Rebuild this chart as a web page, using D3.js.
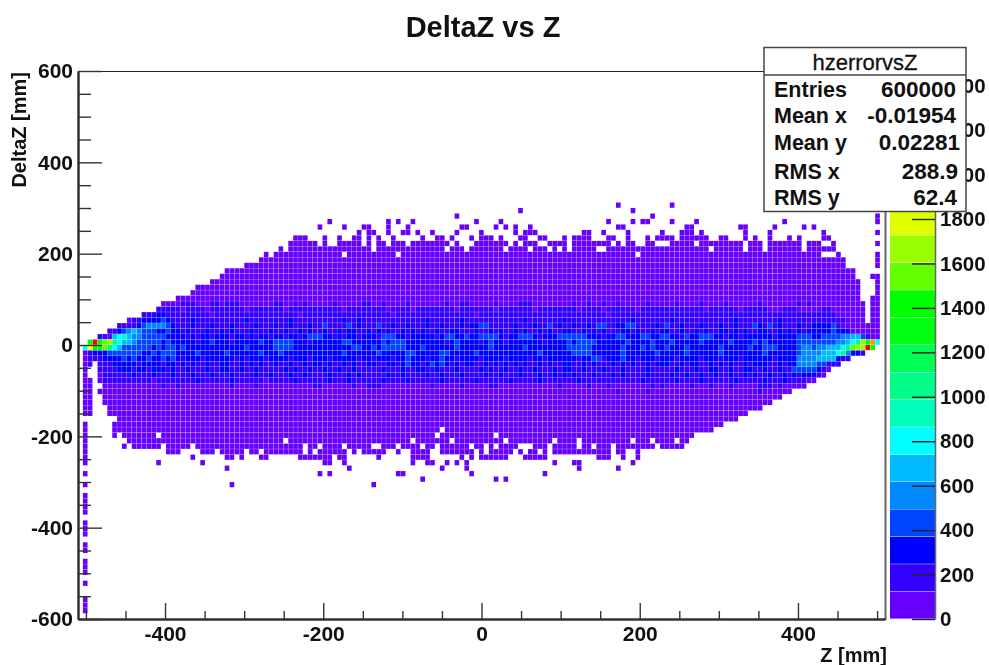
<!DOCTYPE html>
<head>
    <meta charset="utf-8">
    <script src="https://d3js.org/d3.v7.min.js"></script>
    <style>
        *{
            margin:0;
            padding:0;
        }
        html,
        body{
            background: #fff;
            overflow: hidden;
        }
        svg{
            display: block;
            filter: blur(0.35px);
        }
        text{
            font-family: 'Liberation Sans', sans-serif;
            font-weight: 700;
            fill: #111;
        }
    </style>
</head>

<body>
<svg id="viz" width="989" height="665"></svg>

<script>
    // axis ticks
    const zMajor = [-400, -200, 0, 200, 400];
    const zMinor = [-500, -450, -350, -300, -250, -150, -100, -50, 50, 100, 150, 250, 300, 350, 450, 500];
    const dzMajor = [-600, -400, -200, 0, 200, 400, 600];
    const dzMinor = [-550, -500, -450, -350, -300, -250, -150, -100, -50, 50, 100, 150, 250, 300, 350, 450, 500, 550];
    const barTicks = [0, 200, 400, 600, 800, 1000, 1200, 1400, 1600, 1800, 2000, 2200, 2400];

    // colour levels of the palette, low to high
    const palette = ["#6600ff", "#3300ff", "#0000ff", "#0044ff", "#0088ff", "#00bbff", "#00ffff", "#00ffbb", "#00ff88", "#00ff55",
        "#00ff11", "#00ff00", "#66ff00", "#99ff00", "#ddff00", "#ffff00", "#ffcc00", "#ff9900", "#ff6600", "#ff0000"];

    // stats box
    const statNames = ["Entries", "Mean x", "Mean y", "RMS x", "RMS y"];
    const statValues = ["600000", "-0.01954", "0.02281", "288.9", "62.4"];

    // first and last filled row of every Z bin (row 0 is the top of the plot)
    const topRow = [null,50,49,49,48,48,47,47,46,46,45,45,45,44,44,44,43,42,42,42,41,41,41,40,39,39,39,38,38,37,
        36,36,36,36,35,35,35,34,33,34,33,32,32,31,30,30,32,32,32,32,32,32,32,32,32,32,32,32,32,32,
        32,32,32,32,32,32,32,32,32,32,32,32,32,32,32,32,32,32,32,32,32,32,32,32,32,32,32,32,32,32,
        32,32,32,32,32,32,32,32,32,32,32,32,32,32,32,32,32,32,32,32,32,32,32,32,32,32,32,32,32,32,
        32,32,32,32,32,32,32,32,32,32,32,32,32,32,32,32,32,32,32,32,32,32,32,32,32,32,32,32,32,32,
        32,32,32,32,32,33,34,36,36,38,42,46,41,37,null];
    const bottomRow = [null,62,62,52,58,60,62,66,65,66,67,68,68,68,68,68,68,68,68,68,68,68,68,68,68,68,68,68,68,68,
        68,68,68,68,68,68,68,68,68,68,68,68,68,68,68,68,68,68,68,68,68,68,68,68,68,68,68,68,68,68,
        68,68,68,68,68,68,68,68,68,68,68,68,68,68,68,68,68,68,68,68,68,68,68,68,68,68,68,68,68,68,
        68,68,68,68,68,68,68,68,68,68,68,68,68,68,68,68,68,68,68,68,68,68,68,68,68,68,68,68,68,68,
        68,68,68,68,67,66,65,65,65,65,64,64,63,63,63,62,62,61,61,61,60,60,59,59,58,58,57,57,57,56,
        56,55,55,54,53,53,52,52,51,51,51,50,50,49,null];

    // [row, bins]: empty bins inside the body
    const holeRows = [
        [32, [42,60,75,79,87,92,96,98,100,106,107,129,136,140,148]],
        [33, [54,65,114,152,153,154]],
        [54, [2]], [55, [2]], [57, [4]], [63, [7]], [65, [74]],
        [66, [16,73,85]],
        [67, [42,68,76,87,97,102,113,117,122]],
        [68, [17,23,46,49,54,60,61,65,70,73,80,83,85,90,91,92,96,102,105,109,118,9]]
    ];

    // [row, bins]: filled bins outside the body
    const strayRows = [
        [24, [110,121]],
        [25, [90,113]],
        [26, [77,117,163]],
        [27, [51,63,65,68,81,86,108,113,115,116,121,126,144,163]],
        [28, [49,54,58,59,63,67,78,79,85,87,89,92,110,111,124,125,135,136,142,148,150]],
        [29, [57,59,60,63,66,67,69,72,77,82,89,91,92,93,103,104,107,112,119,123,124,125,127,136,141,152,163]],
        [30, [46,50,53,56,57,59,61,64,70,73,74,76,80,82,83,84,86,90,91,94,95,99,101,102,103,104,108,109,112,116,118,119,120,121,123,124,125,126,127,128,131,132,136,138,141,145,147,152,153]],
        [31, [46,47,48,50,53,54,55,56,57,59,61,62,64,65,66,68,69,70,71,72,73,74,75,77,81,82,83,84,85,86,87,89,91,92,93,96,97,98,99,101,102,103,104,105,106,107,108,110,112,113,116,117,121,122,123,124,125,127,128,129,130,131,132,133,134,135,137,138,139,141,142,143,144,145,146,147,149,150,151,154,163]],
        [33, [163]], [34, [163]], [35, [163]], [37, [162]],
        [64, [1]], [65, [1]], [66, [1]], [67, [1]], [68, [1,9]],
        [69, [1,18,19,20,25,26,27,29,30,31,32,33,35,36,38,39,40,41,42,43,44,45,47,49,50,51,52,53,54,56,58,59,60,61,62,65,68,69,70,71,74,75,76,77,78,79,80,82,84,85,86,87,88,90,92,93,95,97,98,99,100,101,102,103,104,105,106,107,108,110,111,114]],
        [70, [1,23,30,31,33,37,38,45,46,47,48,49,50,51,53,54,61,68,69,70,71,78,80,82,83,84,85,86,87,91,92,93,94,95,106,107,108,111,114]],
        [71, [1,16,25,50,51,54,68,71,72,75,77,79,97,101,102,113]],
        [72, [30,55,74,79,102,110]],
        [73, [1,49,51,65,66,80,95]],
        [74, [70,85,87]],
        [75, [1,31,60]],
        [77, [1]], [78, [1]], [79, [1]], [80, [1]],
        [82, [1]], [83, [1]], [84, [1]],
        [86, [1]], [87, [1]],
        [89, [1]], [90, [1]], [91, [1]],
        [93, [1]],
        [96, [1]], [97, [1]], [98, [1]]
    ];

    // palette level of each Z bin for rows 42 to 58, base 20, 165 bins in groups of ten; the rest of the body is level 0
    const levelRows = [
        "0000000000 0000000000 0111000110 1110000000 1100101000 0010000011 0010000100 0000010011 0000010000 1110000000 0100100100 1000001000 0010000100 0010000001 0000000101 0000000000 00000",
        "0000000000 0000001111 1011110111 1111011111 1101111111 1111011111 1110111101 1111111011 1111101111 1110111111 1101111011 1111011111 1111111101 1111101111 1000111000 0011000000 00000",
        "0000000000 0001112211 1111111011 1111111111 1111101111 1111111111 1111011111 1111111111 1011111111 1111111111 1111111101 1111111111 1111111111 1111111111 1111111111 1111100000 00000",
        "0000000000 0112222321 1112111111 1111211111 1112111111 1111211211 1111111111 1211111121 1111111111 1211111112 1111111111 1112111111 1211111111 1111211111 1112111111 1111111000 00000",
        "0000000011 1123444432 1112111211 1211112111 2112111211 3111131211 1311211211 1211211121 2233111112 1112113121 1211213311 2233111121 3112111211 1211211132 1312111211 2222310000 00000",
        "0000001123 4543332232 2121112112 1211121112 1121121211 2112122112 1212112121 2112112211 1211212112 1211212112 2112121211 1221211212 2112112121 1221212112 2112121212 2222322200 00000",
        "0000110567 5443333322 2212122122 2122121221 2212212333 2212122122 2133322122 2221233223 2233332122 3332122233 3333222122 3322233223 3221322333 2212212222 2212222333 2233334455 31000",
        "00ajbcd865 5433333232 2222122322 2122222322 3333222122 2222332222 2232333222 2222212322 2212322122 2222212222 3233332222 2232222322 2322222322 2223222232 3222222333 3333344568 dbh60",
        "06fbbc8653 3333323233 2322222222 2222322222 3333222222 2222223322 3233333222 3222222322 2222322222 2322222222 3333322222 2322232322 3222322222 2322222322 3332222344 34455568cd djb00",
        "0012223333 3332232333 2222322222 3222222322 2322222222 2222322222 2322222332 2222332222 2322222222 2222322222 2333322222 2322222232 2222322222 2322222222 3222222344 4455568422 10000",
        "0011122223 2322322323 2122212222 2212122212 2221222122 2122222122 1222122322 2122322122 2212222122 2212212222 2212233122 2322122212 2212222122 2122212222 2212222444 4555521100 00000",
        "0011111222 2212222122 1212112112 2112121211 2112112122 1211212112 2112212322 1232321212 2112121212 1211212112 2112121112 1212112122 2112122112 1212112122 2112122444 4331110000 00000",
        "0001111122 2122122212 1121112112 2112112111 1121211211 2112112111 1121112112 2112111211 1121211211 2112111212 2112111211 1211112111 1121112112 2112112211 2112113333 3210000000 00000",
        "0001011111 1211121112 1112111211 1211112112 1112112111 1211121211 1112112111 1211211121 1112112111 2111211212 1211121112 1211112111 1211211211 2112112121 1211212122 2100000000 00000",
        "0000011111 1111101111 1111211111 1211111101 1111211111 1211121111 1121111211 1111211111 1211111121 1111211111 1121111111 1111121111 1121111211 1111211111 2111211110 0000000000 00000",
        "0000000000 0000000100 1000000000 0100001000 0000000011 0000001001 1100000000 0010000010 0000110000 0000000010 0000100010 0000000101 0000010001 0001000001 1101000000 0000000000 00000",
        "0000000000 0000000000 0000000000 0000000000 0000000000 0000000000 0000000000 0000000000 0000000000 0000000000 0000000000 1000001000 0000000000 0000000001 0000000000 0000000000 00000"
    ];
    const firstLevelRow = 42;

    const svg = d3.select("#viz");

    const zBins = 165, dzBins = 100;
    const x = d3.scaleLinear().domain([-510, 510]).range([78, 885]);
    const y = d3.scaleLinear().domain([-600, 600]).range([619, 71]);
    const binZ = 1020 / zBins, binDz = 1200 / dzBins;
    const barMax = 2466;
    const barY = d3.scaleLinear().domain([0, barMax]).range([619, 71]);

    // title
    svg.append("text").attr("x", 483).attr("y", 37).attr("text-anchor", "middle")
        .style("font-size", "29px").text("DeltaZ vs Z");

    // build the list of filled bins
    const levels = levelRows.map(s => s.replace(/ /g, ""));
    const holes = new Set();
    holeRows.forEach(([row, bins]) => bins.forEach(b => holes.add(b + ":" + row)));
    const levelOf = (col, row) => {
        const line = levels[row - firstLevelRow];
        return line ? parseInt(line[col], 20) || 0 : 0;
    };
    const cells = [];
    topRow.forEach((first, col) => {
        if (first === null) return;
        for (let row = first; row <= bottomRow[col]; row++) {
            if (!holes.has(col + ":" + row)) cells.push({col, row, level: levelOf(col, row)});
        }
    });
    strayRows.forEach(([row, bins]) => bins.forEach(col => cells.push({col, row, level: levelOf(col, row)})));

    svg.append("g").selectAll("rect")
        .data(cells)
        .join("rect")
        .attr("x", d => x(-510 + d.col * binZ))
        .attr("y", d => y(600 - d.row * binDz))
        .attr("width", x(binZ) - x(0) - 0.25)
        .attr("height", y(0) - y(binDz) - 0.25)
        .attr("fill", d => palette[d.level]);

    // frame
    svg.append("line").attr("x1", x.range()[0]).attr("x2", x.range()[1]).attr("y1", 71.5).attr("y2", 71.5)
        .attr("stroke", "#222").attr("stroke-width", 1.2);
    svg.append("line").attr("x1", 885.5).attr("x2", 885.5).attr("y1", 71).attr("y2", 620)
        .attr("stroke", "#666").attr("stroke-width", 2);

    // axes
    const styleAxis = g => {
        g.select(".domain").attr("stroke", "#333").attr("stroke-width", 2);
        g.selectAll("line").attr("stroke", "#333").attr("stroke-width", 1.4);
        g.selectAll("text").style("font-size", "21px").style("fill", "#111");
    };
    const plain = d => String(d);
    svg.append("g").attr("transform", "translate(0,619)")
        .call(d3.axisBottom(x).tickValues(zMinor).tickSize(-8).tickSizeOuter(0).tickFormat(""))
        .call(styleAxis);
    svg.append("g").attr("transform", "translate(0,619)")
        .call(d3.axisBottom(x).tickValues(zMajor).tickSize(-16).tickSizeOuter(0).tickPadding(7).tickFormat(plain))
        .call(styleAxis);
    svg.append("g").attr("transform", "translate(78,0)")
        .call(d3.axisLeft(y).tickValues(dzMinor).tickSize(-13).tickSizeOuter(0).tickFormat(""))
        .call(styleAxis);
    svg.append("g").attr("transform", "translate(78,0)")
        .call(d3.axisLeft(y).tickValues(dzMajor).tickSize(-24).tickSizeOuter(0).tickPadding(5).tickFormat(plain))
        .call(styleAxis);

    svg.append("text").attr("x", 887).attr("y", 662).attr("text-anchor", "end")
        .style("font-size", "20px").text("Z [mm]");
    svg.append("text").attr("transform", "translate(26,72) rotate(-90)").attr("text-anchor", "end")
        .style("font-size", "20px").text("DeltaZ [mm]");

    // colour bar
    const barStep = barMax / palette.length;
    svg.append("g").selectAll("rect")
        .data(palette)
        .join("rect")
        .attr("x", 890)
        .attr("width", 45)
        .attr("y", (d, i) => barY((i + 1) * barStep))
        .attr("height", barY(0) - barY(barStep) - 0.4)
        .attr("fill", d => d);
    svg.append("g").attr("transform", "translate(935,0)")
        .call(d3.axisRight(barY).tickValues(barTicks).tickSize(-23).tickSizeOuter(0).tickPadding(5).tickFormat(plain))
        .call(g => {
            g.select(".domain").attr("stroke", "#666").attr("stroke-width", 1.5);
            g.selectAll("line").attr("stroke", "#222").attr("stroke-width", 1.4);
            g.selectAll("text").style("font-size", "20.5px").style("fill", "#111");
        });

    // stats box
    const box = svg.append("g");
    box.append("rect").attr("x", 764).attr("y", 47.5).attr("width", 202).attr("height", 164)
        .attr("fill", "#fff").attr("stroke", "#444").attr("stroke-width", 1.5);
    box.append("line").attr("x1", 764).attr("x2", 966).attr("y1", 75).attr("y2", 75)
        .attr("stroke", "#444").attr("stroke-width", 1.5);
    box.append("text").attr("x", 865).attr("y", 70).attr("text-anchor", "middle")
        .style("font-size", "22px").style("font-weight", 400).style("stroke", "#111").style("stroke-width", 0.3).text("hzerrorvsZ");
    const statY = [97, 123, 150, 179, 205];
    const statRight = [956, 956, 960, 958, 957];
    statNames.forEach((name, i) => {
        box.append("text").attr("x", 774).attr("y", statY[i]).style("font-size", "21.5px").text(name);
        box.append("text").attr("x", statRight[i]).attr("y", statY[i]).attr("text-anchor", "end")
            .style("font-size", "22.5px").text(statValues[i]);
    });
</script>
</body>
</html>
